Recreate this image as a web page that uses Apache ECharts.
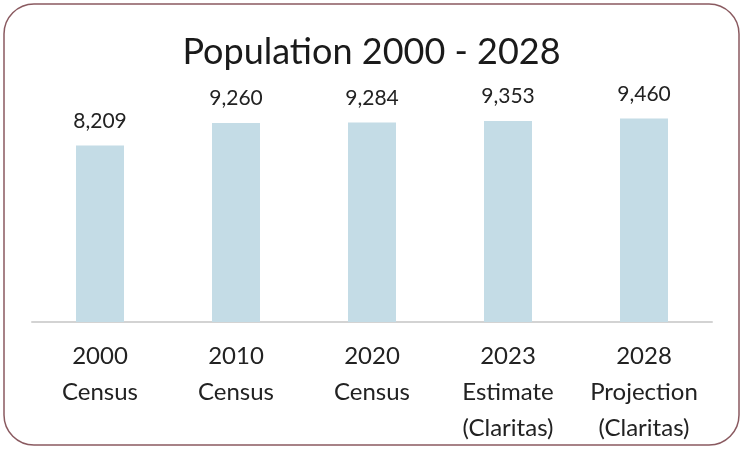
<!DOCTYPE html>
<html>
<head>
<meta charset="utf-8">
<script src="https://cdn.jsdelivr.net/npm/echarts@6/dist/echarts.min.js"></script>
<style>
  html, body { margin: 0; padding: 0; background: #fff; }
  #chart { width: 743px; height: 449px; }
</style>
</head>
<body>
<div id="chart"></div>
<script>
'use strict'

var categories = ['2000\nCensus', '2010\nCensus', '2020\nCensus', '2023\nEstimate\n(Claritas)', '2028\nProjection\n(Claritas)'];
var population = [8209, 9260, 9284, 9353, 9460];

var myChart = echarts.init(document.getElementById('chart'));
var option = {
    backgroundColor: '#fff',
    title: {
        text: 'Population 2000 - 2028',
        left: 'center',
        top: 29,
        textStyle: {
            fontFamily: 'Lato',
            fontWeight: 'normal',
            fontSize: 36,
            color: '#1a1a1a'
        }
    },
    graphic: [
        {
            type: 'rect',
            shape: { x: 4, y: 4, width: 735, height: 441, r: 30 },
            style: { fill: 'none', stroke: '#8a5a60', lineWidth: 1.5 },
            silent: true
        }
    ],
    grid: {
        left: 32,
        right: 31,
        top: 107,
        height: 215,
        outerBoundsMode: 'none'
    },
    xAxis: {
        type: 'category',
        data: categories,
        axisLine: { lineStyle: { color: '#d3d3d3', width: 2 } },
        axisTick: { show: false },
        axisLabel: {
            interval: 0,
            margin: 16,
            fontFamily: 'Lato',
            fontSize: 24,
            lineHeight: 36,
            color: '#222'
        }
    },
    yAxis: {
        type: 'value',
        min: 0,
        max: 10000,
        show: false,
        splitLine: { show: false }
    },
    series: [
        {
            type: 'bar',
            data: population,
            barWidth: 48,
            itemStyle: { color: '#c4dce6' },
            label: {
                show: true,
                position: 'top',
                distance: 14,
                fontFamily: 'Lato',
                fontSize: 21,
                color: '#222',
                formatter: function (p) {
                    return p.value.toLocaleString('en-US');
                }
            }
        }
    ]
};
myChart.setOption(option);
</script>
</body>
</html>
